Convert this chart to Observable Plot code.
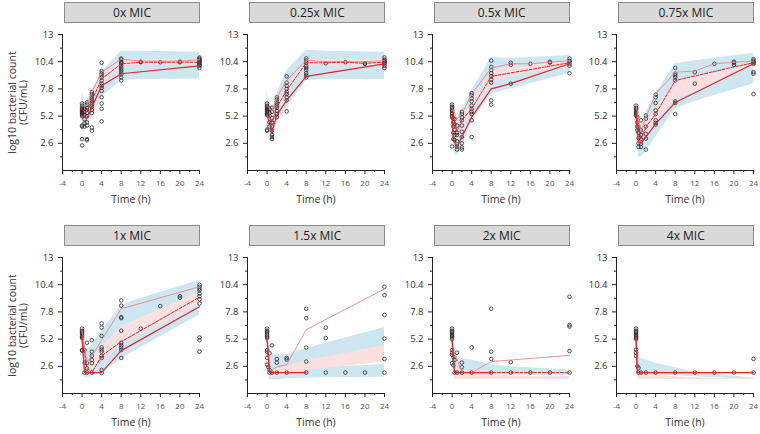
<!DOCTYPE html>
<html>
<head>
<meta charset="utf-8">
<script src="https://cdn.jsdelivr.net/npm/d3@7"></script>
<script src="https://cdn.jsdelivr.net/npm/@observablehq/plot@0.6"></script>
<style>
  html, body { margin: 0; padding: 0; background: #fff; }
  #root { position: relative; width: 760px; height: 434px; overflow: hidden; font-family: "Open Sans", "Noto Sans", sans-serif; }
  .hdr { position: absolute; height: 19px; background: #d9d9d9; border: 1px solid #8a8a8a; box-sizing: content-box;
         font-size: 12px; color: #222; text-align: center; line-height: 19px; }
  .ytitle { position: absolute; width: 160px; text-align: center; font-size: 10.5px; line-height: 10.5px; color: #333;
            transform: rotate(-90deg); transform-origin: center center; }
  .panel { position: absolute; }
</style>
</head>
<body>
<div id="root"></div>
<script>
// ---------- data ----------
const panelNames = ["0x MIC", "0.25x MIC", "0.5x MIC", "0.75x MIC", "1x MIC", "1.5x MIC", "2x MIC", "4x MIC"];
const xTicks = [-4, 0, 4, 8, 12, 16, 20, 24];
const xMinor = [-2, 2, 6, 10, 14, 18, 22];
const yTicks = [2.6, 5.2, 7.8, 10.4, 13];
const yMinor = [1.3, 3.9, 6.5, 9.1, 11.7];

// time grid of the simulated bands
const bandTime = [0, 0.5, 1, 2, 4, 8, 12, 24];
// upper (95th percentile) prediction band
const upperHi = [
  [7.6, 6.5, 6.6, 7.6, 9.4, 11.4, 11.4, 11.3],
  [7.8, 5.9, 5.8, 7.3, 9.5, 11.5, 11.4, 11.3],
  [7.0, 5.0, 4.8, 5.8, 7.6, 10.8, 10.7, 11.0],
  [6.7, 4.5, 4.3, 5.6, 7.3, 10.2, 10.5, 11.2],
  [6.4, 4.2, 4.2, 4.6, 6.0, 8.4, 9.1, 10.8],
  [6.4, 3.8, 3.8, 3.75, 3.7, 4.3, 4.8, 6.3],
  [6.4, 3.5, 3.45, 3.35, 3.2, 2.75, 2.55, 2.25],
  [6.5, 3.5, 3.4, 3.2, 2.9, 2.45, 2.05, 1.45]
];
const upperLo = [
  [5.5, 5.4, 5.4, 6.3, 8.2, 10.0, 10.1, 10.1],
  [5.4, 4.6, 4.3, 5.8, 7.3, 10.0, 10.0, 10.1],
  [5.3, 3.2, 2.9, 3.8, 5.5, 8.4, 9.0, 10.0],
  [5.3, 2.5, 2.5, 3.5, 4.7, 6.8, 7.5, 10.0],
  [5.4, 2.8, 2.8, 3.1, 4.4, 6.3, 7.2, 9.6],
  [5.3, 2.2, 2.2, 2.3, 2.5, 3.0, 3.3, 4.2],
  [5.3, 1.8, 1.8, 1.8, 1.8, 1.8, 1.75, 1.7],
  [5.3, 1.8, 1.8, 1.8, 1.8, 1.7, 1.6, 1.35]
];
// median band
const medHi = [
  [5.9, 5.8, 5.9, 7.0, 9.0, 10.6, 10.6, 10.6],
  [5.9, 5.2, 5.0, 6.4, 8.0, 10.6, 10.6, 10.6],
  [5.9, 4.0, 3.7, 4.8, 6.5, 9.6, 9.9, 10.5],
  [5.9, 3.2, 3.2, 4.4, 5.9, 8.5, 8.9, 10.4],
  [5.9, 2.9, 2.9, 3.2, 4.5, 6.3, 7.2, 9.7],
  [5.9, 2.2, 2.2, 2.3, 2.6, 3.2, 3.5, 4.6],
  [5.9, 2.0, 2.0, 2.0, 1.95, 1.8, 1.7, 1.5],
  [5.9, 2.0, 2.0, 1.95, 1.85, 1.6, 1.5, 1.35]
];
const medLo = [
  [5.5, 5.4, 5.4, 6.3, 8.2, 10.0, 10.1, 10.1],
  [5.4, 4.6, 4.3, 5.8, 7.3, 10.0, 10.0, 10.1],
  [5.3, 3.2, 2.9, 3.8, 5.5, 8.4, 9.0, 10.0],
  [5.3, 2.5, 2.5, 3.5, 4.7, 6.8, 7.5, 10.0],
  [5.3, 2.0, 2.0, 2.3, 3.1, 4.7, 5.6, 8.5],
  [5.3, 1.5, 1.5, 1.6, 1.8, 2.2, 2.4, 3.0],
  [5.3, 1.35, 1.35, 1.35, 1.35, 1.35, 1.35, 1.35],
  [5.3, 1.33, 1.33, 1.33, 1.33, 1.33, 1.33, 1.33]
];
// lower (5th percentile) band
const lowerHi = [
  [5.9, 5.8, 5.9, 7.0, 9.0, 10.6, 10.6, 10.6],
  [5.9, 5.2, 5.0, 6.4, 8.0, 10.6, 10.6, 10.6],
  [5.9, 4.0, 3.7, 4.8, 6.5, 9.6, 9.9, 10.5],
  [5.9, 3.2, 3.2, 4.4, 5.9, 8.5, 8.9, 10.4],
  [5.5, 2.1, 2.1, 2.4, 3.2, 5.0, 5.8, 8.6],
  [5.5, 1.9, 1.9, 1.9, 2.0, 2.4, 2.5, 2.75],
  [5.5, 1.6, 1.6, 1.6, 1.6, 1.6, 1.6, 1.6],
  [5.5, 1.5, 1.5, 1.5, 1.5, 1.45, 1.4, 1.35]
];
const lowerLo = [
  [4.0, 4.3, 4.4, 5.0, 7.0, 8.6, 8.7, 8.75],
  [4.5, 3.5, 3.2, 4.6, 6.0, 8.6, 8.7, 8.7],
  [4.0, 1.5, 1.4, 2.2, 4.6, 7.3, 7.8, 9.3],
  [4.2, 1.3, 1.3, 1.8, 3.2, 5.9, 6.6, 8.3],
  [4.8, 1.5, 1.5, 1.6, 2.0, 3.3, 4.4, 7.5],
  [4.6, 1.35, 1.35, 1.35, 1.4, 1.45, 1.5, 1.55],
  [4.6, 1.35, 1.35, 1.35, 1.35, 1.35, 1.35, 1.35],
  [4.6, 1.33, 1.33, 1.33, 1.33, 1.33, 1.33, 1.33]
];

// observed percentile lines
const lineTime = [0, 0.25, 0.5, 1, 2, 4, 8, 12, 16, 20, 24];
const obsHi = [
  [6.2, null, null, 6.2, 7.5, 9.4, 10.65, 10.45, 10.45, 10.45, 10.6],
  [6.2, null, null, 5.7, 7.0, 8.6, 10.55, 10.4, 10.4, 10.4, 10.5],
  [6.0, null, null, 4.95, 5.4, 7.3, 9.8, 10.2, 10.2, 10.35, 10.5],
  [6.2, null, null, 3.7, 5.1, 7.3, 9.4, 9.5, 10.2, 10.35, 10.45],
  [6.0, null, null, 3.0, 3.6, null, 8.1, null, null, null, 10.2],
  [5.8, null, 2.1, null, 2.55, 2.75, 6.1, null, null, null, 10.0],
  [5.3, 4.1, null, 3.3, 2.0, 2.0, 3.05, null, null, null, 3.65],
  [5.4, 2.5, 2.0, 2.0, 2.0, 2.0, 2.0, 2.0, 2.0, 2.0, 2.0]
];
const obsMed = [
  [5.8, null, null, 5.6, 6.7, 8.75, 10.2, 10.35, 10.35, 10.35, 10.35],
  [5.7, null, null, 4.6, 6.05, 7.65, 10.3, 10.3, 10.35, 10.25, 10.35],
  [5.75, null, null, 3.7, 4.8, 5.9, 9.0, null, null, null, 10.3],
  [5.6, null, null, 3.0, 4.15, 5.4, 8.6, null, null, 9.9, 10.3],
  [5.4, null, null, 2.4, 2.0, 3.6, 4.95, null, null, null, 9.2],
  [5.3, null, 2.0, 2.0, 2.0, 2.0, 2.0, null, null, null, null],
  [5.2, null, 2.0, 2.0, 2.0, 2.0, 2.0, 2.0, 2.0, 2.0, 2.0],
  [5.3, 2.0, 2.0, 2.0, 2.0, 2.0, 2.0, 2.0, 2.0, 2.0, 2.0]
];
const obsLo = [
  [5.3, null, null, 5.0, 6.05, 8.1, 9.25, null, null, null, 10.0],
  [5.3, null, null, 3.7, 5.3, 6.7, 9.0, null, null, null, 10.2],
  [5.4, 2.9, null, 2.25, 3.2, 5.1, 7.8, 8.3, null, null, 10.2],
  [5.3, null, 2.7, 2.6, 3.2, 4.45, 6.5, null, null, null, 10.2],
  [5.2, null, 2.0, 2.0, 2.0, 2.0, 4.1, null, null, null, 8.3],
  [5.1, null, 2.0, 2.0, 2.0, 2.0, 2.0, null, null, null, null],
  [5.1, null, 2.0, 2.0, 2.0, 2.0, 2.0, null, null, null, null],
  [5.2, 2.0, 2.0, 2.0, 2.0, 2.0, 2.0, 2.0, 2.0, 2.0, 2.0]
];

// observed counts: [time, [values]]
const obs0x = [
  [0, [6.4, 6.2, 6.0, 5.9, 5.8, 5.7, 5.6, 5.5, 5.4, 5.3, 5.2, 4.3, 4.2, 3.0, 2.4]],
  [0.5, [5.9, 5.6, 5.3, 4.9, 4.5, 4.2]],
  [1, [6.5, 6.3, 6.0, 5.8, 5.5, 5.2, 4.6, 4.3, 3.0, 2.9]],
  [2, [7.5, 7.3, 7.1, 6.9, 6.7, 6.5, 6.3, 6.1, 5.8, 5.5, 4.1, 3.8]],
  [4, [10.3, 9.5, 9.3, 9.1, 8.9, 8.6, 8.3, 8.1, 7.9, 7.6, 7.0, 6.4, 5.9, 4.7]],
  [8, [10.7, 10.6, 10.4, 10.3, 10.2, 10.0, 9.8, 9.6, 9.4, 9.2, 8.9, 8.6]],
  [12, [10.35, 10.4]], [16, [10.35]], [20, [10.4, 10.35]],
  [24, [10.8, 10.7, 10.6, 10.5, 10.4, 10.3, 10.2, 10.1, 10.0, 9.8]]
];
const obs025x = [
  [0, [6.4, 6.2, 6.1, 6.0, 5.9, 5.8, 5.7, 5.6, 5.5, 5.4, 5.3, 3.9, 3.8]],
  [0.5, [5.9, 5.5, 5.2, 4.6, 4.2]],
  [1, [6.0, 5.6, 5.0, 4.6, 4.2, 3.8, 3.4, 3.2, 3.0]],
  [2, [7.0, 6.8, 6.6, 6.4, 6.2, 6.0, 5.7, 5.4, 5.1]],
  [4, [9.0, 8.4, 8.1, 7.8, 7.5, 7.3, 7.0, 6.7, 5.65]],
  [8, [10.7, 10.5, 10.3, 10.0, 9.8, 9.6, 9.3, 9.1, 8.9]],
  [12, [10.25]], [16, [10.35]], [20, [10.2, 10.25]],
  [24, [10.8, 10.6, 10.5, 10.4, 10.3, 10.2, 10.0, 9.8]]
];
const obs05x = [
  [0, [6.3, 6.1, 6.0, 5.8, 5.7, 5.5, 5.4, 5.2, 5.1, 2.3]],
  [0.25, [5.0, 4.6, 4.2, 3.6, 3.0]],
  [0.5, [4.9, 4.4, 3.9, 3.4, 2.9]],
  [1, [4.3, 3.6, 3.4, 2.8, 2.3, 2.0]],
  [2, [5.6, 5.4, 5.1, 4.8, 4.3, 3.7, 3.2, 2.6, 2.2, 2.0]],
  [4, [7.4, 7.2, 6.9, 6.6, 6.2, 5.9, 5.6, 5.4, 4.8, 3.2]],
  [8, [10.5, 9.9, 9.6, 9.3, 9.0, 8.7, 8.4, 6.7, 6.3]],
  [12, [10.3, 10.1, 8.3]], [16, [10.2]], [20, [10.4, 10.3]],
  [24, [10.7, 10.5, 10.4, 10.2, 10.0, 9.3]]
];
const obs075x = [
  [0, [6.2, 6.0, 5.9, 5.8, 5.6, 5.5, 5.4, 5.25]],
  [0.25, [5.1, 4.6, 4.2, 3.85]],
  [0.5, [4.15, 3.6, 3.1, 2.6, 2.25]],
  [1, [4.8, 3.85, 3.4, 3.0, 2.55, 2.25]],
  [2, [5.25, 4.95, 4.2, 3.5, 3.05, 2.0]],
  [4, [7.25, 7.0, 6.45, 5.75, 5.4, 4.8, 4.55, 4.4]],
  [8, [9.8, 9.25, 9.1, 8.9, 8.6, 6.6, 6.45, 5.4]],
  [12, [9.4, 8.3]], [16, [10.2]], [20, [10.4, 10.3, 10.1]],
  [24, [10.65, 10.5, 10.4, 10.3, 10.2, 9.4, 9.25, 7.3]]
];
const obs1x = [
  [0, [6.2, 6.0, 5.9, 5.8, 5.7, 5.5, 5.4, 5.3, 4.15, 4.1]],
  [0.5, [4.15, 2.95, 2.0]],
  [1, [4.85, 2.9, 2.4, 2.0]],
  [2, [5.1, 4.0, 3.6, 3.2, 2.9, 2.0]],
  [4, [6.7, 6.3, 5.5, 4.4, 4.2, 4.0, 3.6, 3.4, 2.25, 1.95]],
  [8, [8.9, 8.4, 7.3, 7.2, 6.0, 4.85, 4.6, 4.4, 4.15, 3.4]],
  [12, [6.2]], [16, [8.35]], [20, [9.3, 9.15]],
  [24, [10.4, 10.2, 10.0, 9.85, 9.55, 9.3, 9.0, 8.6, 5.35, 5.1, 4.0]]
];
const obs15x = [
  [0, [6.2, 6.0, 5.9, 5.8, 5.6, 5.5, 5.4, 5.3, 4.15, 4.0, 3.4, 2.75]],
  [0.25, [2.55]],
  [0.5, [3.85, 2.25, 2.0]],
  [1, [4.6, 2.0]],
  [2, [3.3, 2.95, 2.0]],
  [4, [3.4, 3.25, 2.0]],
  [8, [8.1, 7.2, 4.4, 3.05, 2.0]],
  [12, [6.3, 5.3, 2.0]], [16, [2.0]], [20, [2.0]],
  [24, [10.2, 9.4, 7.5, 5.25, 3.3, 2.0]]
];
const obs2x = [
  [0, [6.2, 6.0, 5.9, 5.8, 5.6, 5.5, 5.4, 5.2, 4.15, 3.9, 3.7, 2.9]],
  [0.25, [3.5, 2.7]],
  [0.5, [3.2, 2.0]],
  [1, [3.9, 2.0]],
  [2, [2.95, 2.5, 2.0]],
  [4, [4.4, 2.0]],
  [8, [8.1, 4.0, 3.3, 2.0]],
  [12, [3.0, 2.0]], [16, [2.0]], [20, [2.0]],
  [24, [9.25, 6.55, 6.4, 4.05, 2.0]]
];
const obs4x = [
  [0, [6.2, 6.0, 5.9, 5.8, 5.6, 5.5, 5.4, 5.3, 5.2, 4.2, 3.9, 3.6]],
  [0.25, [2.6]],
  [0.5, [2.45, 2.0]],
  [1, [2.0]], [2, [2.0]], [4, [2.0]], [8, [2.0]], [12, [2.0]], [16, [2.0]], [20, [2.0]],
  [24, [2.0, 3.3]]
];
const observations = [obs0x, obs025x, obs05x, obs075x, obs1x, obs15x, obs2x, obs4x];

// ---------- layout ----------
const BLUE = "#cde6f0";
const PINK = "#fcdede";
const RED = "#e3262e";
const RED_LIGHT = "#f08585";
const colAxisX = [62, 247.3, 431.7, 615.8];
const rowTop = [24, 247];
const headerTop = [2, 225];
const ML = 40, MR = 7, MT = 10, MB = 40, W = 184, H = 186;

const root = document.getElementById("root");

function lineData(arr) {
  return lineTime.map((t, i) => ({t, v: arr[i]})).filter(d => d.v != null);
}

panelNames.forEach((name, i) => {
  const col = i % 4, row = Math.floor(i / 4);
  const bands = bandTime.map((t, k) => ({
    t,
    uh: upperHi[i][k], ul: upperLo[i][k],
    mh: medHi[i][k], ml: medLo[i][k],
    lh: lowerHi[i][k], ll: lowerLo[i][k]
  }));
  const pts = observations[i].flatMap(([t, vs]) => vs.map(v => ({t, v})));

  const chart = Plot.plot({
    width: W, height: H,
    marginLeft: ML, marginRight: MR, marginTop: MT, marginBottom: MB,
    style: {fontFamily: "'Open Sans', 'Noto Sans', sans-serif", color: "#333", background: "transparent", overflow: "visible"},
    x: {domain: [-4, 24]},
    y: {domain: [0, 13]},
    marks: [
      Plot.areaY(bands, {x: "t", y1: "ul", y2: "uh", fill: BLUE}),
      Plot.areaY(bands, {x: "t", y1: "ll", y2: "lh", fill: BLUE}),
      Plot.areaY(bands, {x: "t", y1: "ml", y2: "mh", fill: PINK, fillOpacity: 0.95}),
      Plot.dot(pts, {x: "t", y: "v", r: 1.8, stroke: "#2a2a2a", strokeWidth: 0.8, fill: "none"}),
      Plot.line(lineData(obsHi[i]), {x: "t", y: "v", stroke: RED_LIGHT, strokeWidth: 0.9}),
      Plot.line(lineData(obsMed[i]), {x: "t", y: "v", stroke: RED, strokeWidth: 1, strokeDasharray: "3,1.5"}),
      Plot.line(lineData(obsLo[i]), {x: "t", y: "v", stroke: RED, strokeWidth: 1.2}),
      Plot.ruleY([0], {stroke: "#222"}),
      Plot.ruleX([-4], {stroke: "#222"}),
      Plot.axisX({ticks: xTicks, tickSize: 4, tickPadding: 6, fontSize: 8, label: null, stroke: "#222", color: "#555", tickFormat: d => String(d)}),
      Plot.axisX({ticks: xMinor, tickSize: 2, tickFormat: () => "", label: null, stroke: "#222"}),
      Plot.axisY({ticks: yTicks, tickSize: 4, tickPadding: 5, fontSize: 9.5, label: null, stroke: "#222", color: "#333", tickFormat: d => String(d)}),
      Plot.axisY({ticks: yMinor, tickSize: 2, tickFormat: () => "", label: null, stroke: "#222"}),
      Plot.text(["Time (h)"], {text: d => d, frameAnchor: "bottom", dy: 32, fontSize: 10.5, fill: "#333"})
    ]
  });
  chart.classList.add("panel");
  chart.style.left = (colAxisX[col] - ML) + "px";
  chart.style.top = rowTop[row] + "px";
  root.appendChild(chart);

  const hdr = document.createElement("div");
  hdr.className = "hdr";
  hdr.textContent = name;
  hdr.style.left = (colAxisX[col] + 2) + "px";
  hdr.style.top = headerTop[row] + "px";
  hdr.style.width = "134px";
  root.appendChild(hdr);
});

// y-axis titles (left column only)
[102, 325].forEach(cy => {
  const t = document.createElement("div");
  t.className = "ytitle";
  t.innerHTML = "log10 bacterial count<br>(CFU/mL)";
  t.style.left = (17 - 80) + "px";
  t.style.top = (cy - 10.5) + "px";
  root.appendChild(t);
});
</script>
</body>
</html>
